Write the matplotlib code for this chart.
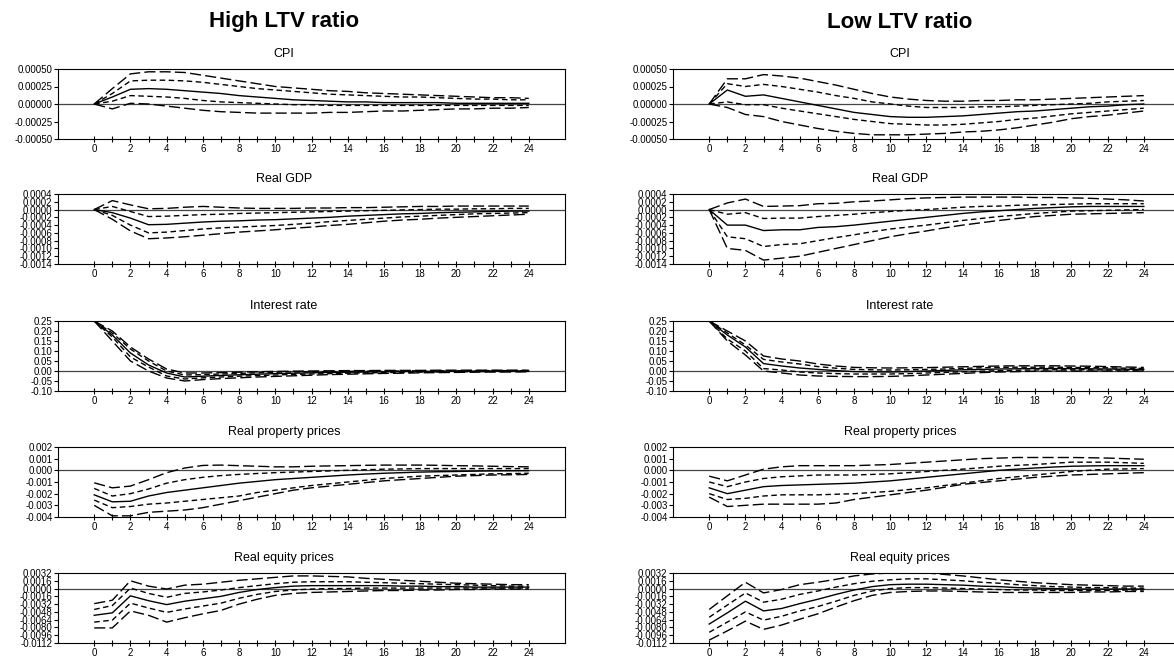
import matplotlib
matplotlib.use("Agg")
import matplotlib.pyplot as plt

plt.rcParams['font.family'] = ['Liberation Sans', 'DejaVu Sans']

# horizon (quarters)
horizon = list(range(25))

# each panel: [outer upper, inner upper, median, inner lower, outer lower]
cpi_high = [
    [0, 0.00022, 0.00043, 0.00046, 0.00046, 0.00045, 0.00041, 0.00037, 0.00033, 0.00029, 0.00025, 0.00023, 0.00021,
     0.00019, 0.00018, 0.00016, 0.00015, 0.00014, 0.00013, 0.00012, 0.00011, 0.0001, 0.00009, 0.00009, 0.00008],
    [0, 0.00015, 0.00033, 0.00034, 0.00034, 0.00033, 0.00031, 0.00028, 0.00025, 0.00022, 0.0002, 0.00018, 0.00016,
     0.00014, 0.00013, 0.00012, 0.00011, 0.0001, 0.0001, 0.00009, 0.00008, 0.00007, 0.00007, 0.00006, 0.00006],
    [0, 0.0001, 0.00021, 0.00022, 0.00021, 0.00019, 0.00017, 0.00015, 0.00012, 0.0001, 0.00008, 0.00006, 0.00005,
     0.00004, 0.00003, 0.00003, 0.00002, 0.00002, 0.00002, 0.00002, 0.00001, 0.00001, 0.00001, 0.00001, 0.00001],
    [0, 0.00004, 0.00012, 0.00011, 0.0001, 0.00008, 0.00005, 0.00003, 0.00002, 0.00001, 0.0, -0.00001, -0.00001,
     -0.00002, -0.00002, -0.00002, -0.00002, -0.00002, -0.00002, -0.00002, -0.00002, -0.00002, -0.00002, -0.00002, -0.00002],
    [0, -0.00007, 0.00001, 0.0, -0.00003, -0.00006, -0.00009, -0.00011, -0.00012, -0.00013, -0.00013, -0.00013, -0.00013,
     -0.00012, -0.00012, -0.00011, -0.0001, -0.0001, -0.00009, -0.00008, -0.00007, -0.00007, -0.00006, -0.00006, -0.00005],
]
cpi_low = [
    [0, 0.00036, 0.00036, 0.00042, 0.0004, 0.00037, 0.00032, 0.00027, 0.00021, 0.00015, 0.0001, 0.00007, 0.00005,
     0.00004, 0.00004, 0.00005, 0.00005, 0.00006, 0.00006, 0.00007, 0.00008, 0.00009, 0.0001, 0.00011, 0.00012],
    [0, 0.00029, 0.00025, 0.00028, 0.00025, 0.00021, 0.00017, 0.00012, 0.00008, 0.00003, 0.0, -0.00003, -0.00005,
     -0.00005, -0.00005, -0.00004, -0.00004, -0.00003, -0.00002, -0.00001, 0.0, 0.00001, 0.00003, 0.00004, 0.00005],
    [0, 0.0002, 0.00011, 0.00013, 0.00008, 0.00003, -0.00002, -0.00007, -0.00012, -0.00015, -0.00018, -0.00019, -0.00019,
     -0.00018, -0.00017, -0.00015, -0.00013, -0.00011, -0.0001, -0.00008, -0.00006, -0.00004, -0.00003, -0.00001, 0.0],
    [0, 0.00003, -0.00001, -0.00001, -0.00006, -0.0001, -0.00014, -0.00018, -0.00022, -0.00025, -0.00028, -0.00029, -0.0003,
     -0.0003, -0.00029, -0.00027, -0.00025, -0.00022, -0.0002, -0.00017, -0.00014, -0.00012, -0.0001, -0.00008, -0.00006],
    [0, -0.00005, -0.00015, -0.00018, -0.00025, -0.0003, -0.00035, -0.00039, -0.00042, -0.00044, -0.00044, -0.00044, -0.00043,
     -0.00042, -0.0004, -0.00039, -0.00037, -0.00034, -0.0003, -0.00026, -0.00021, -0.00018, -0.00016, -0.00013, -0.0001],
]

gdp_high = [
    [0, 0.00023, 0.00012, 0.00002, 0.00003, 0.00006, 0.00008, 0.00006, 0.00004, 0.00003, 0.00003, 0.00003, 0.00004,
     0.00004, 0.00005, 0.00005, 0.00006, 0.00007, 0.00008, 0.00008, 0.00009, 0.00009, 0.00009, 0.00009, 0.00009],
    [0, 0.00008, -0.00005, -0.00018, -0.00017, -0.00015, -0.00013, -0.00012, -0.0001, -0.00009, -0.00008, -0.00007, -0.00006,
     -0.00005, -0.00004, -0.00003, -0.00002, -0.00001, 0.0, 0.00001, 0.00001, 0.00002, 0.00002, 0.00003, 0.00003],
    [0, -0.00008, -0.00022, -0.00039, -0.00038, -0.00035, -0.00032, -0.0003, -0.00029, -0.00027, -0.00026, -0.00024, -0.00022,
     -0.0002, -0.00017, -0.00015, -0.00013, -0.00011, -0.0001, -0.00008, -0.00007, -0.00006, -0.00005, -0.00004, -0.00004],
    [0, -0.00015, -0.0004, -0.0006, -0.00058, -0.00054, -0.0005, -0.00047, -0.00045, -0.00043, -0.00041, -0.00038, -0.00035,
     -0.00031, -0.00028, -0.00025, -0.00022, -0.00019, -0.00017, -0.00015, -0.00013, -0.00011, -0.0001, -0.00009, -0.00008],
    [0, -0.00025, -0.00055, -0.00075, -0.00073, -0.0007, -0.00066, -0.00062, -0.00058, -0.00055, -0.00052, -0.00048, -0.00045,
     -0.00041, -0.00038, -0.00034, -0.0003, -0.00027, -0.00025, -0.00022, -0.0002, -0.00018, -0.00016, -0.00014, -0.00012],
]
gdp_low = [
    [0, 0.00017, 0.00027, 0.00008, 0.00009, 0.0001, 0.00015, 0.00016, 0.0002, 0.00022, 0.00025, 0.00028, 0.0003,
     0.00031, 0.00032, 0.00032, 0.00032, 0.00032, 0.00031, 0.00031, 0.0003, 0.00029, 0.00027, 0.00025, 0.00022],
    [0, -0.00012, -0.00008, -0.00023, -0.00022, -0.00022, -0.00018, -0.00015, -0.00012, -0.00008, -0.00005, -0.00002, 0.0,
     0.00003, 0.00006, 0.00008, 0.00009, 0.00011, 0.00012, 0.00013, 0.00014, 0.00015, 0.00015, 0.00015, 0.00015],
    [0, -0.0004, -0.0004, -0.00054, -0.00052, -0.00052, -0.00046, -0.00044, -0.0004, -0.00035, -0.0003, -0.00025, -0.0002,
     -0.00015, -0.0001, -0.00006, -0.00003, 0.0, 0.00003, 0.00005, 0.00007, 0.00008, 0.00008, 0.00008, 0.00008],
    [0, -0.0007, -0.00075, -0.00095, -0.0009, -0.00088, -0.0008, -0.00072, -0.00065, -0.00057, -0.0005, -0.00045, -0.0004,
     -0.00034, -0.00028, -0.00023, -0.00018, -0.00014, -0.0001, -0.00007, -0.00004, -0.00003, -0.00002, -0.00001, 0.0],
    [0, -0.001, -0.00105, -0.0013, -0.00125, -0.0012, -0.0011, -0.001, -0.0009, -0.0008, -0.0007, -0.00062, -0.00055,
     -0.00047, -0.0004, -0.00034, -0.00028, -0.00023, -0.00018, -0.00015, -0.00012, -0.00011, -0.0001, -0.00009, -0.00008],
]

rate_high = [
    [0.25, 0.20, 0.12, 0.06, 0.01, -0.01, -0.01, -0.008, -0.006, -0.004, -0.002, -0.001, 0.0,
     0.001, 0.002, 0.002, 0.003, 0.003, 0.003, 0.004, 0.004, 0.004, 0.004, 0.004, 0.004],
    [0.25, 0.19, 0.11, 0.05, 0.0, -0.02, -0.018, -0.015, -0.012, -0.009, -0.006, -0.005, -0.004,
     -0.003, -0.002, -0.001, 0.0, 0.0, 0.001, 0.001, 0.001, 0.002, 0.002, 0.002, 0.002],
    [0.25, 0.18, 0.09, 0.03, -0.01, -0.03, -0.026, -0.022, -0.019, -0.016, -0.013, -0.011, -0.009,
     -0.007, -0.006, -0.005, -0.004, -0.003, -0.002, -0.002, -0.001, -0.001, 0.0, 0.0, 0.0],
    [0.25, 0.17, 0.07, 0.02, -0.025, -0.04, -0.034, -0.03, -0.026, -0.023, -0.02, -0.017, -0.015,
     -0.013, -0.011, -0.009, -0.008, -0.007, -0.006, -0.005, -0.004, -0.003, -0.003, -0.002, -0.002],
    [0.25, 0.15, 0.05, 0.0, -0.035, -0.05, -0.043, -0.038, -0.034, -0.03, -0.027, -0.024, -0.021,
     -0.018, -0.016, -0.014, -0.012, -0.011, -0.009, -0.008, -0.007, -0.006, -0.005, -0.005, -0.004],
]
rate_low = [
    [0.25, 0.20, 0.15, 0.075, 0.06, 0.05, 0.035, 0.025, 0.018, 0.016, 0.015, 0.016, 0.017,
     0.019, 0.021, 0.023, 0.025, 0.026, 0.026, 0.026, 0.025, 0.024, 0.022, 0.02, 0.018],
    [0.25, 0.19, 0.13, 0.058, 0.045, 0.035, 0.022, 0.014, 0.008, 0.006, 0.005, 0.006, 0.008,
     0.01, 0.013, 0.016, 0.018, 0.019, 0.019, 0.019, 0.018, 0.017, 0.016, 0.014, 0.013],
    [0.25, 0.18, 0.12, 0.037, 0.025, 0.015, 0.008, 0.002, -0.003, -0.004, -0.005, -0.003, 0.0,
     0.003, 0.006, 0.008, 0.01, 0.011, 0.012, 0.012, 0.012, 0.011, 0.01, 0.009, 0.008],
    [0.25, 0.16, 0.10, 0.012, 0.005, -0.005, -0.01, -0.013, -0.015, -0.015, -0.015, -0.013, -0.01,
     -0.007, -0.004, -0.001, 0.002, 0.004, 0.005, 0.006, 0.006, 0.006, 0.005, 0.005, 0.004],
    [0.25, 0.15, 0.08, 0.0, -0.01, -0.02, -0.025, -0.027, -0.028, -0.028, -0.027, -0.024, -0.02,
     -0.016, -0.012, -0.008, -0.005, -0.003, -0.001, 0.0, 0.0, 0.0, 0.0, 0.0, 0.0],
]

prop_high = [
    [-0.00107, -0.0015, -0.00135, -0.0008, -0.0002, 0.0002, 0.00042, 0.00045, 0.0004, 0.00035, 0.0003, 0.0003, 0.00035,
     0.00038, 0.0004, 0.00043, 0.00045, 0.00045, 0.00045, 0.00043, 0.0004, 0.00038, 0.00035, 0.00032, 0.0003],
    [-0.00155, -0.0022, -0.002, -0.0016, -0.0011, -0.0008, -0.0006, -0.00045, -0.00035, -0.00027, -0.0002, -0.00015, -0.0001,
     -0.00005, 0.0, 0.00005, 0.0001, 0.00012, 0.00015, 0.00015, 0.00015, 0.00015, 0.00015, 0.00015, 0.00015],
    [-0.0021, -0.0027, -0.00265, -0.0022, -0.0019, -0.0017, -0.0015, -0.0013, -0.0011, -0.00095, -0.0008, -0.0007, -0.0006,
     -0.0005, -0.0004, -0.00032, -0.00025, -0.0002, -0.00015, -0.00012, -0.0001, -0.00007, -0.00005, -0.00004, -0.00003],
    [-0.00255, -0.0032, -0.0031, -0.0029, -0.0028, -0.00265, -0.0025, -0.00235, -0.0022, -0.0019, -0.0017, -0.0015, -0.0013,
     -0.00115, -0.001, -0.00085, -0.0007, -0.0006, -0.0005, -0.00045, -0.0004, -0.00035, -0.0003, -0.00028, -0.00025],
    [-0.003, -0.0039, -0.0039, -0.0036, -0.0035, -0.0034, -0.0032, -0.0029, -0.0026, -0.0023, -0.002, -0.0017, -0.0015,
     -0.00135, -0.0012, -0.00105, -0.0009, -0.0008, -0.0007, -0.0006, -0.0005, -0.00045, -0.0004, -0.00038, -0.00035],
]
prop_low = [
    [-0.0005, -0.0009, -0.0004, 0.0001, 0.0003, 0.0004, 0.0004, 0.0004, 0.0004, 0.00045, 0.0005, 0.0006, 0.0007,
     0.0008, 0.0009, 0.001, 0.00105, 0.0011, 0.0011, 0.0011, 0.0011, 0.00108, 0.00105, 0.001, 0.00095],
    [-0.001, -0.0014, -0.001, -0.0007, -0.00055, -0.00048, -0.0004, -0.0004, -0.0004, -0.00035, -0.0003, -0.0002, -0.0001,
     0.0, 0.0001, 0.00022, 0.00035, 0.00043, 0.0005, 0.0006, 0.0007, 0.0007, 0.0007, 0.00065, 0.0006],
    [-0.0015, -0.002, -0.0017, -0.0014, -0.0013, -0.00125, -0.0012, -0.00115, -0.0011, -0.001, -0.0009, -0.00075, -0.0006,
     -0.00045, -0.0003, -0.00015, 0.0, 0.0001, 0.0002, 0.00028, 0.00035, 0.00038, 0.0004, 0.0004, 0.0004],
    [-0.002, -0.0025, -0.0024, -0.0022, -0.0021, -0.0021, -0.0021, -0.00205, -0.002, -0.0019, -0.0018, -0.00165, -0.0015,
     -0.0013, -0.0011, -0.0009, -0.0007, -0.00055, -0.0004, -0.00025, -0.0001, 0.0, 0.0001, 0.00012, 0.00015],
    [-0.0023, -0.0031, -0.003, -0.0029, -0.0029, -0.0029, -0.0029, -0.0028, -0.0025, -0.0023, -0.0021, -0.0019, -0.0017,
     -0.00145, -0.0012, -0.00105, -0.0009, -0.00075, -0.0006, -0.0005, -0.0004, -0.00035, -0.0003, -0.00025, -0.0002],
]

equity_high = [
    [-0.0031, -0.0024, 0.0016, 0.0005, -0.0001, 0.0007, 0.0009, 0.0013, 0.0017, 0.002, 0.0023, 0.0026, 0.0026,
     0.0025, 0.0024, 0.0021, 0.0019, 0.0017, 0.0015, 0.0013, 0.0011, 0.001, 0.0009, 0.0008, 0.0008],
    [-0.0043, -0.0035, 0.0001, -0.001, -0.0018, -0.001, -0.0007, -0.0003, 0.0002, 0.0006, 0.001, 0.0013, 0.0014,
     0.0014, 0.0014, 0.0013, 0.0012, 0.0011, 0.001, 0.0009, 0.0008, 0.0007, 0.0006, 0.0005, 0.0005],
    [-0.0055, -0.005, -0.0015, -0.0025, -0.0033, -0.0026, -0.0021, -0.0016, -0.0008, -0.0002, 0.0002, 0.0005, 0.0006,
     0.0006, 0.0006, 0.0006, 0.0006, 0.0005, 0.0005, 0.0004, 0.0004, 0.0003, 0.0003, 0.0003, 0.0003],
    [-0.0069, -0.0065, -0.003, -0.004, -0.0049, -0.0042, -0.0036, -0.003, -0.002, -0.0012, -0.0006, -0.0003, -0.0001,
     0.0, 0.0, 0.0001, 0.0001, 0.0001, 0.0001, 0.0001, 0.0001, 0.0001, 0.0001, 0.0001, 0.0001],
    [-0.0081, -0.0081, -0.0046, -0.0055, -0.0069, -0.006, -0.0052, -0.0045, -0.0032, -0.0022, -0.0014, -0.001, -0.0008,
     -0.0007, -0.0006, -0.0005, -0.0004, -0.0004, -0.0003, -0.0003, -0.0002, -0.0002, -0.0001, -0.0001, -0.0001],
]
equity_low = [
    [-0.0043, -0.0015, 0.0013, -0.0009, -0.0002, 0.0008, 0.0013, 0.0019, 0.0026, 0.003, 0.0032, 0.0033, 0.0032,
     0.0029, 0.0026, 0.0022, 0.0018, 0.0015, 0.0012, 0.001, 0.0008, 0.0007, 0.0006, 0.0005, 0.0005],
    [-0.0059, -0.0034, -0.0009, -0.0028, -0.0022, -0.0012, -0.0005, 0.0003, 0.001, 0.0015, 0.0018, 0.002, 0.002,
     0.0018, 0.0016, 0.0013, 0.0011, 0.0008, 0.0006, 0.0004, 0.0003, 0.0002, 0.0002, 0.0001, 0.0001],
    [-0.0073, -0.005, -0.0026, -0.0046, -0.0041, -0.0031, -0.0022, -0.0012, -0.0003, 0.0004, 0.0008, 0.0009, 0.0009,
     0.0008, 0.0007, 0.0005, 0.0004, 0.0002, 0.0001, 0.0, -0.0001, -0.0001, -0.0001, -0.0001, -0.0001],
    [-0.009, -0.0069, -0.0048, -0.0065, -0.0057, -0.0046, -0.0037, -0.0026, -0.0014, -0.0005, 0.0, 0.0002, 0.0002,
     0.0001, 0.0, -0.0001, -0.0002, -0.0003, -0.0003, -0.0004, -0.0004, -0.0004, -0.0004, -0.0003, -0.0003],
    [-0.0106, -0.0087, -0.0067, -0.0084, -0.0075, -0.0063, -0.0052, -0.0038, -0.0025, -0.0014, -0.0008, -0.0006, -0.0005,
     -0.0005, -0.0006, -0.0007, -0.0008, -0.0008, -0.0008, -0.0008, -0.0008, -0.0007, -0.0007, -0.0006, -0.0006],
]

panel_titles = ["CPI", "Real GDP", "Interest rate", "Real property prices", "Real equity prices"]
col_titles = ["High LTV ratio", "Low LTV ratio"]
y_ticks = [
    [-0.0005, -0.00025, 0.0, 0.00025, 0.0005],
    [-0.0014, -0.0012, -0.0010, -0.0008, -0.0006, -0.0004, -0.0002, 0.0, 0.0002, 0.0004],
    [-0.10, -0.05, 0.0, 0.05, 0.10, 0.15, 0.20, 0.25],
    [-0.004, -0.003, -0.002, -0.001, 0.0, 0.001, 0.002],
    [-0.0112, -0.0096, -0.0080, -0.0064, -0.0048, -0.0032, -0.0016, 0.0, 0.0016, 0.0032],
]
y_decimals = [5, 4, 2, 3, 4]
panels = [[cpi_high, cpi_low], [gdp_high, gdp_low], [rate_high, rate_low],
          [prop_high, prop_low], [equity_high, equity_low]]

# line styles: outer band long dash, inner band short dash, median solid
styles = [(0, (8, 3)), (0, (4, 2.5)), '-', (0, (4, 2.5)), (0, (8, 3))]

W, H = 1174, 661
fig = plt.figure(figsize=(W / 100, H / 100), dpi=100)

row_tops = [69, 194, 321, 447, 573]
panel_h = 70
col_lefts = [58, 673]
panel_w = 507
title_x = [284, 900]

for c in range(2):
    fig.text(title_x[c] / W, 1 - 22 / H, col_titles[c], ha='center', va='center',
             fontsize=16, fontweight='bold')
    for r in range(5):
        top = row_tops[r]
        ax = fig.add_axes([col_lefts[c] / W, 1 - (top + panel_h) / H, panel_w / W, panel_h / H])
        for s, series in enumerate(panels[r][c]):
            ax.plot(horizon, series, color='black', lw=1.0, linestyle=styles[s])
        ax.axhline(0, color='#444444', lw=0.9, zorder=0)

        ticks = y_ticks[r]
        ax.set_xlim(-2, 26)
        ax.set_ylim(ticks[0], ticks[-1])
        ax.set_yticks(ticks)
        ax.set_yticklabels([f"{t:.{y_decimals[r]}f}" for t in ticks])
        ax.set_xticks(horizon)
        ax.set_xticklabels([str(h) if h % 2 == 0 else '' for h in horizon])
        ax.tick_params(axis='x', direction='inout', length=5, width=0.8, labelsize=7, pad=1)
        ax.tick_params(axis='y', direction='out', length=3, width=0.8, labelsize=7, pad=1)
        for sp in ax.spines.values():
            sp.set_linewidth(0.8)

        fig.text(title_x[c] / W, 1 - (top - 15) / H, panel_titles[r], ha='center', va='center', fontsize=9)

fig.savefig("out.png", dpi=100)
